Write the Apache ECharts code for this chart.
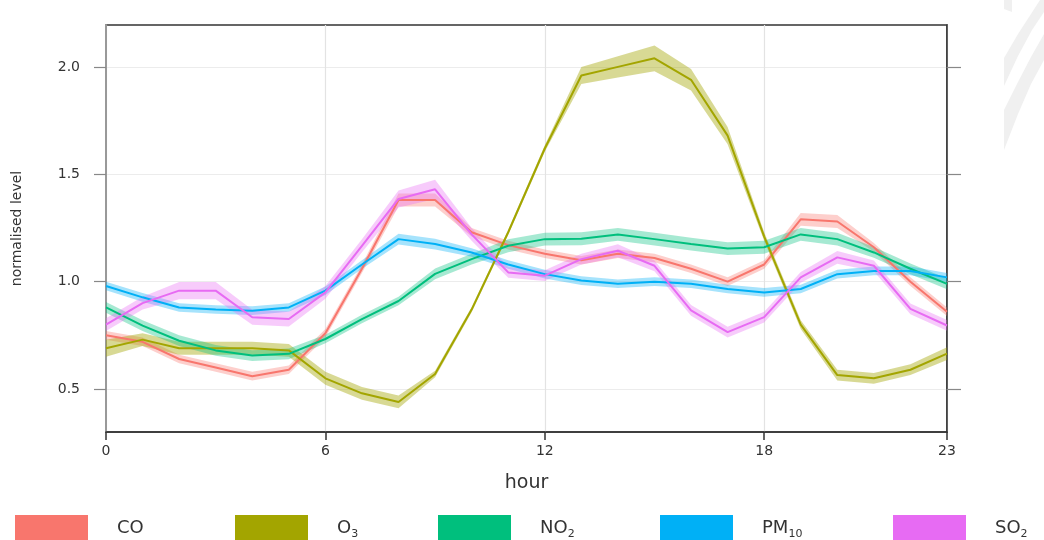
<!DOCTYPE html>
<html>
<head>
<meta charset="utf-8">
<script src="https://cdn.jsdelivr.net/npm/echarts@6/dist/echarts.min.js"></script>
<style>html,body{margin:0;padding:0;background:#fff}#c{width:1044px;height:540px}</style>
</head>
<body>
<div id="c"></div>
<script>
const hours = ['0','1','2','3','4','5','6','7','8','9','10','11','12','13','14','15','16','17','18','19','20','21','22','23'];
const yTicks = [0.5, 1.0, 1.5, 2.0];
const xTickHours = [0, 6, 12, 18, 23];

const coVals   = [0.75,0.72,0.64,0.60,0.56,0.59,0.76,1.06,1.38,1.38,1.23,1.17,1.13,1.10,1.13,1.11,1.06,1.00,1.08,1.29,1.28,1.16,1.00,0.86];
const coCi     = [0.02,0.02,0.02,0.02,0.02,0.02,0.02,0.02,0.03,0.03,0.02,0.02,0.02,0.02,0.02,0.02,0.02,0.02,0.02,0.03,0.03,0.02,0.02,0.02];
const o3Vals   = [0.69,0.73,0.69,0.69,0.69,0.68,0.55,0.48,0.44,0.57,0.87,1.23,1.62,1.96,2.00,2.04,1.94,1.68,1.21,0.80,0.565,0.55,0.59,0.665];
const o3Ci     = [0.04,0.03,0.03,0.03,0.03,0.03,0.03,0.03,0.03,0.015,0.012,0.012,0.015,0.04,0.05,0.06,0.05,0.04,0.02,0.02,0.025,0.025,0.025,0.03];
const no2Vals  = [0.88,0.795,0.725,0.68,0.656,0.664,0.733,0.826,0.91,1.036,1.105,1.167,1.198,1.20,1.22,1.198,1.175,1.154,1.16,1.22,1.198,1.136,1.06,0.99];
const no2Ci    = [0.025,0.025,0.025,0.025,0.025,0.025,0.02,0.02,0.02,0.025,0.025,0.03,0.03,0.03,0.03,0.03,0.03,0.03,0.03,0.03,0.03,0.025,0.025,0.025];
const pm10Vals = [0.98,0.927,0.88,0.87,0.865,0.88,0.958,1.08,1.198,1.175,1.136,1.08,1.035,1.005,0.99,1.0,0.99,0.966,0.95,0.966,1.035,1.05,1.05,1.02];
const pm10Ci   = [0.02,0.02,0.02,0.02,0.02,0.02,0.02,0.02,0.025,0.025,0.02,0.02,0.02,0.02,0.02,0.02,0.02,0.02,0.02,0.02,0.02,0.02,0.02,0.02];
const so2Vals  = [0.80,0.90,0.958,0.958,0.834,0.826,0.95,1.167,1.385,1.43,1.22,1.043,1.028,1.105,1.144,1.074,0.866,0.765,0.835,1.02,1.113,1.074,0.873,0.796];
const so2Ci    = [0.03,0.03,0.04,0.04,0.035,0.035,0.03,0.03,0.04,0.045,0.03,0.025,0.025,0.025,0.03,0.025,0.025,0.025,0.025,0.025,0.03,0.025,0.025,0.025];

const pollutants = [
  {name:'CO',   vals:coVals,   ci:coCi,   color:'#F8766D', band:'rgba(248,118,109,0.35)', legendLeft:15},
  {name:'O3',   vals:o3Vals,   ci:o3Ci,   color:'#A3A500', band:'rgba(163,165,0,0.42)',  legendLeft:235},
  {name:'NO2',  vals:no2Vals,  ci:no2Ci,  color:'#00BF7D', band:'rgba(0,191,125,0.35)',  legendLeft:438},
  {name:'PM10', vals:pm10Vals, ci:pm10Ci, color:'#00B0F6', band:'rgba(0,176,246,0.35)',  legendLeft:660},
  {name:'SO2',  vals:so2Vals,  ci:so2Ci,  color:'#E76BF3', band:'rgba(231,107,243,0.35)',legendLeft:893}
];
const legendText = {CO:'{n|CO}', O3:'{n|O}{s|3}', NO2:'{n|NO}{s|2}', PM10:'{n|PM}{s|10}', SO2:'{n|SO}{s|2}'};

const FONT = 'DejaVu Sans';
const series = [];
pollutants.forEach(p => {
  const lower = p.vals.map((v,i) => +(v - p.ci[i]).toFixed(4));
  const width = p.ci.map(c => +(2*c).toFixed(4));
  series.push({type:'line', stack:'band'+p.name, data:lower, symbol:'none', silent:true,
    lineStyle:{opacity:0}, itemStyle:{color:p.color}, z:1});
  series.push({type:'line', stack:'band'+p.name, data:width, symbol:'none', silent:true,
    lineStyle:{opacity:0}, areaStyle:{color:p.band, opacity:1}, itemStyle:{color:p.color}, z:1});
});
pollutants.forEach(p => {
  series.push({type:'line', name:p.name, data:p.vals, symbol:'none', color:p.color,
    lineStyle:{color:p.color, width:2}, itemStyle:{color:p.color}, z:3});
});

const legends = pollutants.map(p => ({
  data:[{name:p.name, icon:'rect', itemStyle:{color:p.color}}],
  left:p.legendLeft, top:515, itemWidth:73, itemHeight:26, padding:0,
  selectedMode:false,
  formatter: n => legendText[n],
  textStyle:{padding:[0,0,0,24], color:'#222', fontFamily:FONT,
    rich:{n:{fontSize:18, color:'#333', fontFamily:FONT, lineHeight:24},
          s:{fontSize:11, color:'#333', fontFamily:FONT, verticalAlign:'bottom', lineHeight:15}}}
}));

const chart = echarts.init(document.getElementById('c'), null, {renderer:'canvas'});
chart.setOption({
  animation:false,
  backgroundColor:'#fff',
  graphic:[
    {type:'polygon', silent:true, z:-10, shape:{points:[[1004,0],[1012,0],[1012,12],[1004,9]]}, style:{fill:'#f0f0f0'}},
    {type:'polygon', silent:true, z:-10, shape:{points:[[1004,58],[1018,34],[1031,14],[1040,0],[1044,0],[1044,12],[1032,30],[1018,56],[1004,86]]}, style:{fill:'#f0f0f0'}},
    {type:'polygon', silent:true, z:-10, shape:{points:[[1004,110],[1018,82],[1031,57],[1044,34],[1044,60],[1031,84],[1018,114],[1004,150]]}, style:{fill:'#f0f0f0'}}
  ],
  grid:{left:106, right:97, top:25, bottom:108, show:true, borderColor:'#333', borderWidth:1.5, backgroundColor:'transparent'},
  legend:legends,
  xAxis:{type:'category', data:hours, boundaryGap:false,
    name:'hour', nameLocation:'middle', nameGap:42,
    nameTextStyle:{fontSize:19, color:'#333', fontFamily:FONT},
    axisLine:{lineStyle:{color:'#333', width:1.5}},
    axisTick:{show:true, length:8, interval:(i)=>xTickHours.includes(i), lineStyle:{color:'#333', width:1.5}},
    axisLabel:{interval:(i)=>xTickHours.includes(i), margin:12, fontSize:14, color:'#333', fontFamily:FONT},
    splitLine:{show:true, interval:(i)=>xTickHours.includes(i), lineStyle:{color:'#e3e3e3', width:1.2}}
  },
  yAxis:[{type:'value', min:0.3, max:2.195,
    name:'normalised level', nameLocation:'middle', nameGap:82, nameRotate:90,
    nameTextStyle:{fontSize:14, color:'#333', fontFamily:FONT},
    axisLine:{show:true, lineStyle:{color:'#999', width:2}},
    axisTick:{show:true, length:12, customValues:yTicks, lineStyle:{color:'#888', width:1.2}},
    axisLabel:{customValues:yTicks, margin:26, fontSize:14, color:'#333', fontFamily:FONT, formatter:v=>v.toFixed(1)},
    splitLine:{show:true, lineStyle:{color:'#ececec', width:1.2}}
  },{type:'value', min:0.3, max:2.195, position:'right',
    axisLine:{show:true, lineStyle:{color:'#333', width:1.5}},
    axisTick:{show:true, length:14, customValues:yTicks, lineStyle:{color:'#888', width:1.2}},
    axisLabel:{show:false},
    splitLine:{show:false}
  }],
  series:series
});
</script>
</body>
</html>
